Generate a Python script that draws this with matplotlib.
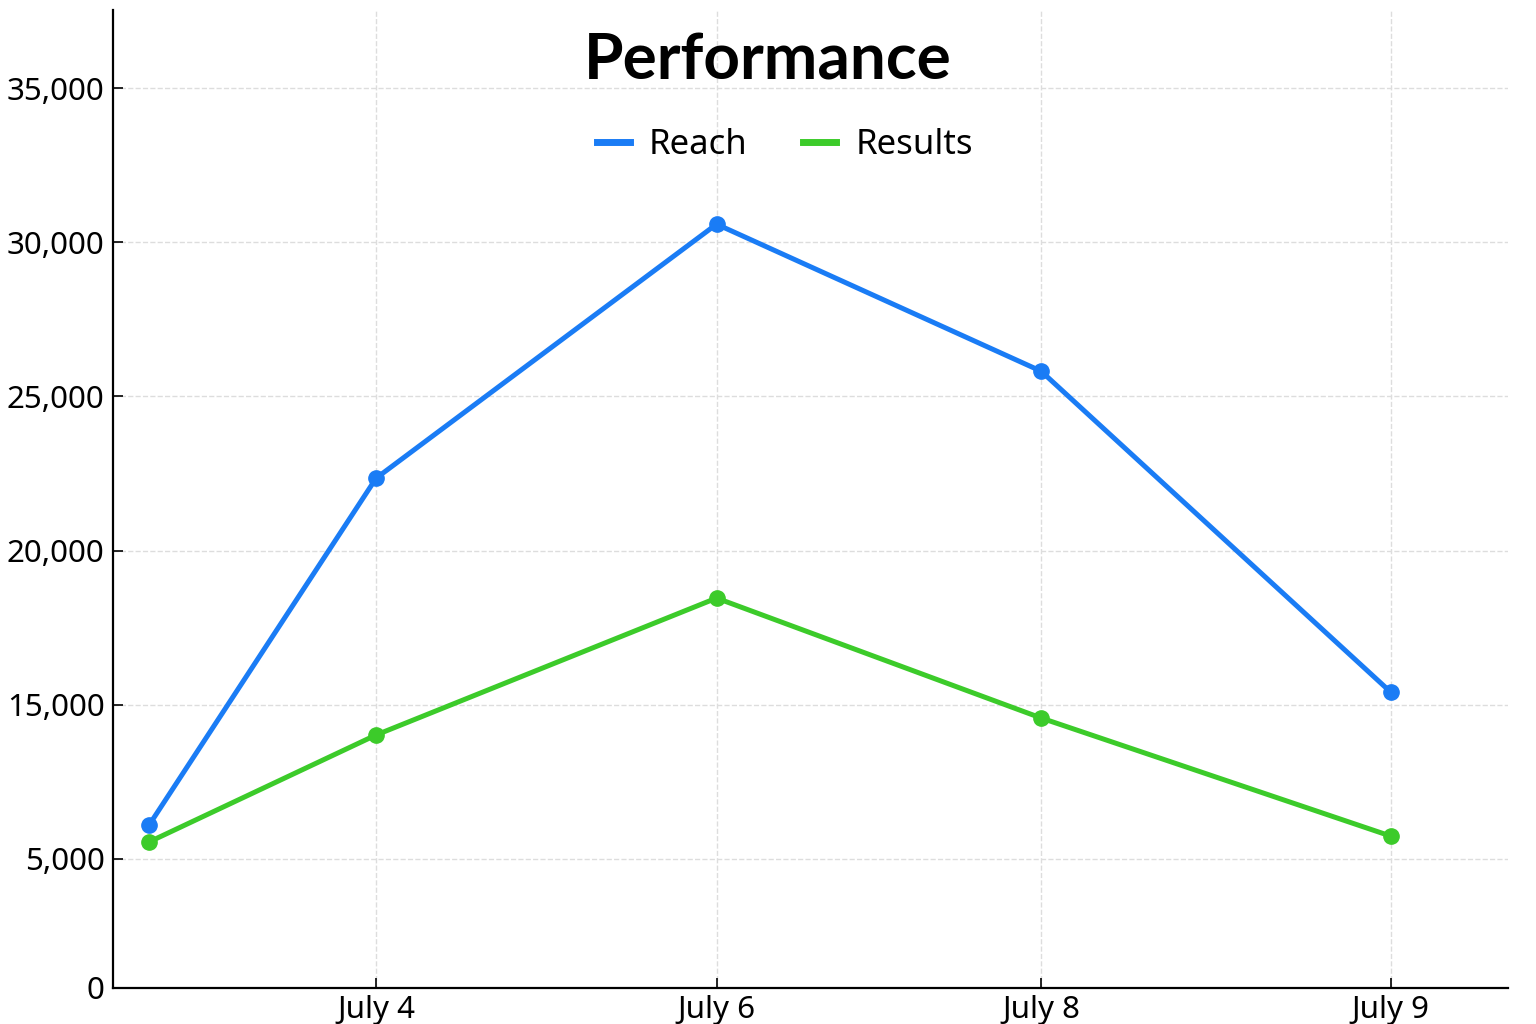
import matplotlib.pyplot as plt

plt.rcParams['font.family'] = ['Noto Sans', 'DejaVu Sans']

# positions along the x axis (uneven spacing as in the picture)
x_pos = [0.0, 1.0, 2.50, 3.93, 5.47]
x_tick_pos = [1.0, 2.50, 3.93, 5.47]
x_tick_labels = ['July 4', 'July 6', 'July 8', 'July 9']

reach = [11100, 22350, 30590, 25820, 15410]
results = [10550, 14020, 18460, 14570, 10740]

# the y labels in the picture are not evenly spaced with the values
y_tick_pos = [5813, 10000, 15000, 20000, 25000, 30000, 35000]
y_tick_labels = ['0', '5,000', '15,000', '20,000', '25,000', '30,000', '35,000']

fig = plt.figure(figsize=(15.36, 10.24), dpi=100)
ax = fig.add_axes([0.0736, 0.0352, 0.9082, 0.9548])

ax.plot(x_pos, reach, color='#1a7cf5', lw=3.6, marker='o', ms=11, label='Reach', zorder=3)
ax.plot(x_pos, results, color='#3ccb2a', lw=3.6, marker='o', ms=11, label='Results', zorder=3)

ax.set_xlim(-0.159, 5.987)
ax.set_ylim(5813, 37530)

ax.set_xticks(x_tick_pos)
ax.set_xticklabels(x_tick_labels)
ax.set_yticks(y_tick_pos)
ax.set_yticklabels(y_tick_labels)
ax.tick_params(direction='in', length=7, width=1.2, labelsize=22.5)
ax.tick_params(axis='x', pad=5)
ax.tick_params(axis='y', pad=6)

ax.grid(True, ls='--', color='#dddddd', lw=1)
ax.set_axisbelow(True)

for side in ['top', 'right']:
    ax.spines[side].set_visible(False)
for side in ['left', 'bottom']:
    ax.spines[side].set_linewidth(1.6)

ax.text(0.469, 0.977, 'Performance', transform=ax.transAxes, ha='center', va='top',
        fontsize=46, fontweight='bold', family=['Lato', 'DejaVu Sans'])

ax.legend(loc='center', bbox_to_anchor=(0.4815, 0.862), ncol=2, frameon=False,
          fontsize=25, handlelength=0.95, columnspacing=1.6, handletextpad=0.55)
leg = ax.get_legend()
for h in leg.legend_handles:
    h.set_marker('')
    h.set_linewidth(5)

fig.savefig('out.png', dpi=100)
